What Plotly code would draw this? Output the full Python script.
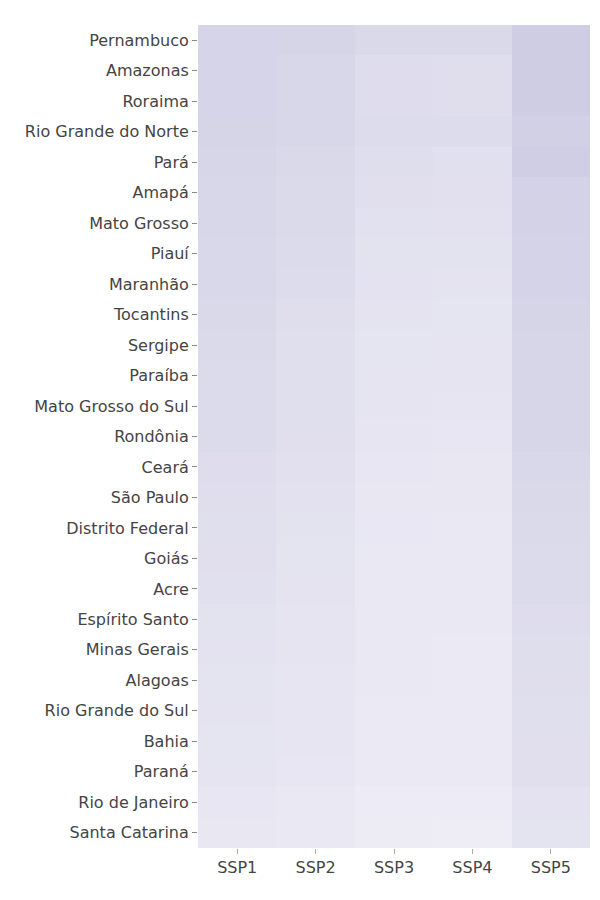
import plotly.graph_objects as go

states = ["Pernambuco", "Amazonas", "Roraima", "Rio Grande do Norte", "Pará", "Amapá",
          "Mato Grosso", "Piauí", "Maranhão", "Tocantins", "Sergipe", "Paraíba",
          "Mato Grosso do Sul", "Rondônia", "Ceará", "São Paulo", "Distrito Federal",
          "Goiás", "Acre", "Espírito Santo", "Minas Gerais", "Alagoas",
          "Rio Grande do Sul", "Bahia", "Paraná", "Rio de Janeiro", "Santa Catarina"]
scenarios = ["SSP1", "SSP2", "SSP3", "SSP4", "SSP5"]

ssp1 = [80, 80, 80, 78, 77, 75, 74, 72, 72, 70, 68, 67, 67, 66, 62, 60, 59, 58, 57, 53, 52, 51, 50, 49, 48, 44, 43]
ssp2 = [78, 74, 74, 74, 71, 69, 68, 66, 65, 60, 59, 59, 59, 58, 56, 54, 53, 51, 50, 48, 48, 47, 46, 46, 45, 40, 40]
ssp3 = [70, 62, 62, 65, 61, 58, 55, 53, 52, 50, 49, 48, 48, 46, 44, 43, 42, 41, 40, 40, 39, 39, 38, 38, 37, 34, 33]
ssp4 = [70, 60, 60, 65, 57, 56, 54, 53, 50, 49, 48, 48, 46, 44, 43, 43, 41, 40, 40, 39, 38, 38, 38, 38, 37, 34, 31]
ssp5 = [95, 95, 95, 88, 92, 85, 84, 83, 83, 78, 77, 77, 77, 76, 72, 70, 69, 67, 66, 62, 61, 60, 59, 58, 58, 52, 51]

z = [list(row) for row in zip(ssp1, ssp2, ssp3, ssp4, ssp5)]

fig = go.Figure(go.Heatmap(
    z=z, x=scenarios, y=states,
    colorscale=[[0, "#efedf6"], [1, "#cdcce3"]],
    zmin=30, zmax=96, showscale=False,
))

fig.update_layout(
    width=600, height=900,
    margin=dict(l=198, r=10, t=25, b=52),
    paper_bgcolor="white", plot_bgcolor="white",
    font=dict(family="DejaVu Sans", size=16, color="#444"),
)
fig.update_yaxes(autorange="reversed", ticks="outside", ticklen=5, tickcolor="#888",
                 showgrid=False, zeroline=False)
fig.update_xaxes(ticks="outside", ticklen=5, tickcolor="#aaa", showgrid=False, zeroline=False)

fig.write_html("out.html")
